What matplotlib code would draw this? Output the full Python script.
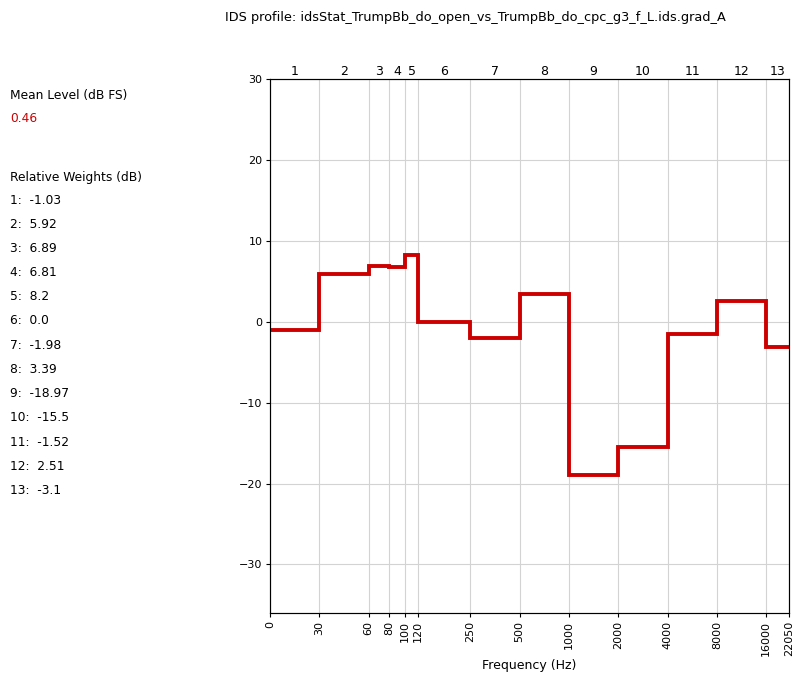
import numpy as np
import matplotlib.pyplot as plt

edges = [0, 30, 60, 80, 100, 120, 250, 500, 1000, 2000, 4000, 8000, 16000, 22050]
weights = [-1.03, 5.92, 6.89, 6.81, 8.2, 0.0, -1.98, 3.39, -18.97, -15.5, -1.52, 2.51, -3.1]
band_names = [str(i + 1) for i in range(len(weights))]
mean_level = 0.46
title = "IDS profile: idsStat_TrumpBb_do_open_vs_TrumpBb_do_cpc_g3_f_L.ids.grad_A"

L30 = np.log2(30)


def fwd(f):
    f = np.asarray(f, dtype=float)
    with np.errstate(divide="ignore", invalid="ignore"):
        return np.where(f < 30, L30 - 1 + f / 30, np.log2(np.maximum(f, 1e-9)))


def inv(x):
    x = np.asarray(x, dtype=float)
    return np.where(x < L30, (x - L30 + 1) * 30, 2.0 ** x)


fig = plt.figure(figsize=(7.93, 6.79), dpi=100)
ax = fig.add_axes([0.3405, 0.0972, 0.6545, 0.7865])
ax.set_xscale("function", functions=(fwd, inv))
ax.stairs(weights, edges, color="#cc0000", linewidth=2.8, baseline=None)
ax.set_xlim(0, 22050)
ax.set_ylim(-36, 30)
ax.set_yticks([-30, -20, -10, 0, 10, 20, 30])
ax.set_xticks(edges)
ax.set_xticklabels([str(e) for e in edges], rotation=90)
ax.minorticks_off()
ax.grid(True, color="#d3d3d3", linewidth=0.8)
ax.set_axisbelow(True)
ax.set_xlabel("Frequency (Hz)", fontsize=9, labelpad=2)
ax.tick_params(labelsize=8, length=3, pad=2.5)
for s in ax.spines.values():
    s.set_color("#444444")

top = ax.twiny()
top.set_xscale("function", functions=(fwd, inv))
top.set_xlim(0, 22050)
centers = [float(inv((fwd(edges[i]) + fwd(edges[i + 1])) / 2)) for i in range(len(weights))]
top.set_xticks(centers)
top.set_xticklabels(band_names)
top.minorticks_off()
top.tick_params(axis="x", length=0, labelsize=9, pad=1)

fig.text(0.6, 0.974, title, ha="center", va="center", fontsize=9.3)

fs = 8.8
fig.text(10 / 793, 1 - 96 / 679, "Mean Level (dB FS)", fontsize=fs, va="center")
fig.text(10 / 793, 1 - 119 / 679, str(mean_level), fontsize=fs, va="center", color="#cc0000")
fig.text(10 / 793, 1 - 177 / 679, "Relative Weights (dB)", fontsize=fs, va="center")
for i, w in enumerate(weights):
    fig.text(10 / 793, 1 - (200 + i * 24.2) / 679, f"{i + 1}:  {w}", fontsize=fs, va="center")

fig.savefig("out.png", dpi=100)
